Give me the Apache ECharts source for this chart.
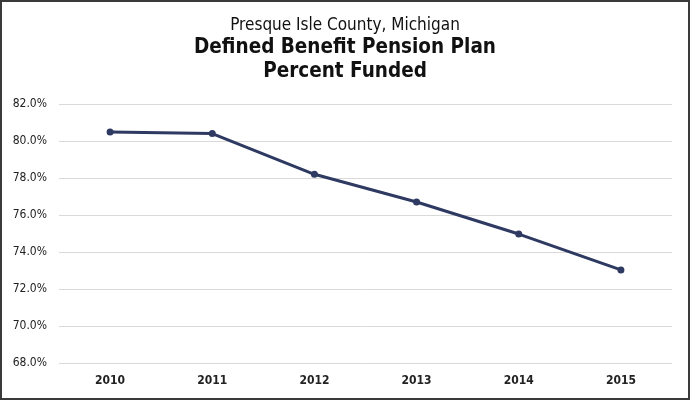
<!DOCTYPE html>
<html>
<head>
<meta charset="utf-8">
<script src="https://cdn.jsdelivr.net/npm/echarts@6/dist/echarts.min.js"></script>
<style>
html,body{margin:0;padding:0;background:#fff;}
#frame{position:absolute;left:0;top:0;width:686px;height:396px;border:2px solid #3a3a3a;background:#fff;}
#chart{width:686px;height:396px;}
</style>
</head>
<body>
<div id="frame"><div id="chart"></div></div>
<script>
const categories = ['2010', '2011', '2012', '2013', '2014', '2015'];
const percentFunded = [80.48, 80.4, 78.2, 76.7, 74.97, 73.03];
const yTicks = { min: 68, max: 82, interval: 2 };
const titleLine1 = 'Presque Isle County, Michigan';
const titleLine2 = 'Defined Benefit Pension Plan';
const titleLine3 = 'Percent Funded';

const FONT = '"DejaVu Sans Condensed", "Liberation Sans Narrow", "Liberation Sans", sans-serif';
const chart = echarts.init(document.getElementById('chart'));
chart.setOption({
  animation: false,
  textStyle: { fontFamily: FONT },
  title: [
    { text: titleLine1, left: 'center', top: 10, textStyle: { fontFamily: FONT, fontSize: 17, fontWeight: 'normal', color: '#111' } },
    { text: titleLine2 + '\n' + titleLine3, left: 'center', top: 28, textStyle: { fontFamily: FONT, fontSize: 20.5, fontWeight: 'bold', color: '#111', lineHeight: 24.5 } }
  ],
  grid: { left: 57, right: 16, top: 102, bottom: 35, containLabel: false },
  xAxis: {
    type: 'category',
    data: categories,
    boundaryGap: true,
    axisLine: { show: false },
    axisTick: { show: false },
    axisLabel: { fontFamily: FONT, fontSize: 12, fontWeight: 'bold', color: '#222', margin: 12 }
  },
  yAxis: {
    type: 'value',
    min: yTicks.min, max: yTicks.max, interval: yTicks.interval,
    axisLine: { show: false },
    axisTick: { show: false },
    splitLine: { lineStyle: { color: '#d9d9d9', width: 1 } },
    axisLabel: { fontFamily: FONT, fontSize: 12, color: '#222', margin: 12, formatter: v => v.toFixed(1) + '%' }
  },
  series: [{
    type: 'line',
    data: percentFunded,
    symbol: 'circle',
    symbolSize: 7,
    lineStyle: { color: '#2f3a62', width: 3 },
    itemStyle: { color: '#2f3a62' }
  }]
});
</script>
</body>
</html>
